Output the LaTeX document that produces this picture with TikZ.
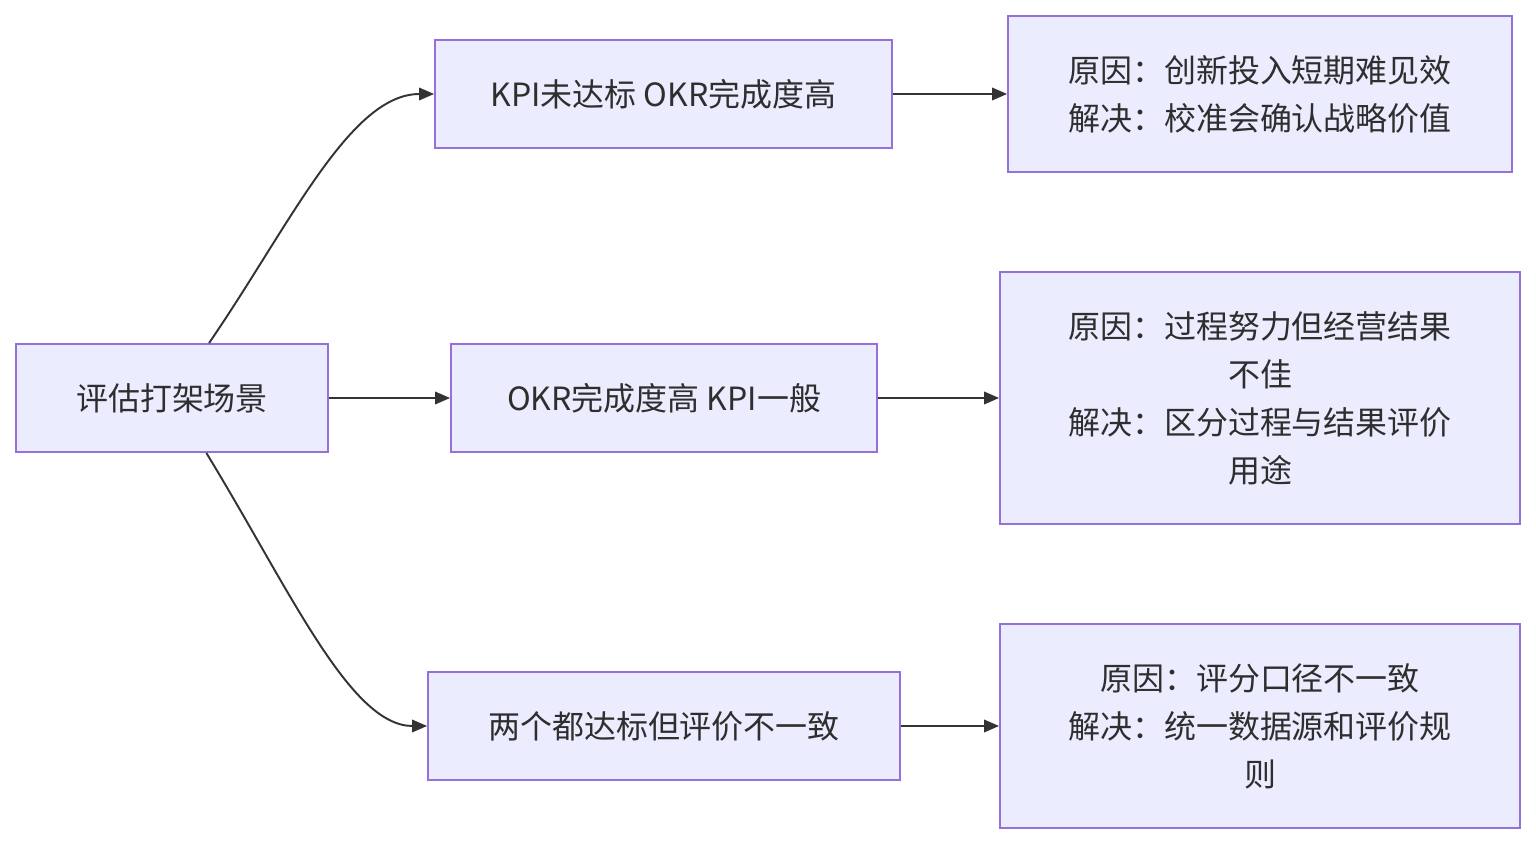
\documentclass[tikz,border=0pt]{standalone}
\usepackage{fontspec}
\setmainfont{Noto Sans CJK SC}
\usetikzlibrary{arrows.meta}

\definecolor{boxfill}{HTML}{ECECFF}
\definecolor{boxline}{HTML}{9370DB}
\definecolor{linkline}{HTML}{333333}

\begin{document}
\begin{tikzpicture}[
  x=0.02cm, y=-0.02cm,
  box/.style={rectangle, draw=boxline, fill=boxfill, line width=1.1pt, align=center, inner sep=0pt,
    font=\fontsize{18.2pt}{27.3pt}\selectfont, text=linkline!90!black},
  arrow/.style={-{Triangle[length=0.3cm,width=0.25cm]}, draw=linkline, line width=1.1pt}
]
\useasboundingbox (0,0) rectangle (1536,844);

% scene
\node[box, minimum width=6.24cm, minimum height=2.16cm] (scene) at (172,398) {评估打架场景};

% cases
\node[box, minimum width=9.14cm, minimum height=2.16cm] (caseA) at (663.5,94) {KPI未达标 OKR完成度高};
\node[box, minimum width=8.52cm, minimum height=2.16cm] (caseB) at (664,398) {OKR完成度高 KPI一般};
\node[box, minimum width=9.44cm, minimum height=2.16cm] (caseC) at (664,726) {两个都达标但评价不一致};

% reasons and fixes
\node[box, minimum width=10.08cm, minimum height=3.12cm] (fixA) at (1260,94) {原因：创新投入短期难见效\\解决：校准会确认战略价值};
\node[box, minimum width=10.4cm, minimum height=5.04cm] (fixB) at (1260,398) {原因：过程努力但经营结果\\不佳\\解决：区分过程与结果评价\\用途};
\node[box, minimum width=10.4cm, minimum height=4.08cm] (fixC) at (1260,726) {原因：评分口径不一致\\解决：统一数据源和评价规\\则};

\draw[arrow] (scene.56) .. controls (290,225) and (350,94) .. (caseA.west);
\draw[arrow] (scene.east) -- (caseB.west);
\draw[arrow] (scene.-58) .. controls (290,590) and (350,726) .. (caseC.west);

\draw[arrow] (caseA.east) -- (fixA.west);
\draw[arrow] (caseB.east) -- (fixB.west);
\draw[arrow] (caseC.east) -- (fixC.west);

\end{tikzpicture}
\end{document}
